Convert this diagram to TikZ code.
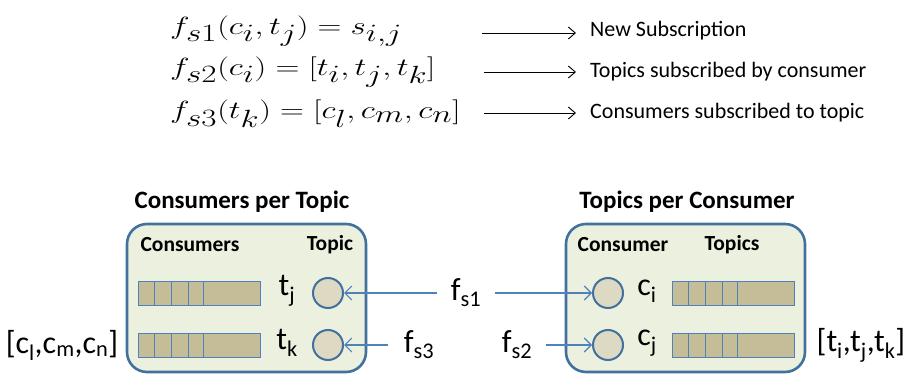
\documentclass[tikz,border=0pt]{standalone}
\usepackage{amsmath}
\usepackage{fontspec}
\setmainfont{Carlito}
\usepackage{tikz}
\usetikzlibrary{arrows.meta, positioning}
\definecolor{kaderblauw}{RGB}{65,113,156}
\definecolor{lijnblauw}{RGB}{79,129,189}
\definecolor{vakgroen}{RGB}{235,241,222}
\definecolor{balkbruin}{RGB}{196,189,151}
\definecolor{bolgrijs}{RGB}{221,217,195}

\tikzset{
  mapbox/.style={draw=kaderblauw, line width=2.6pt, fill=vakgroen, rounded corners=20pt},
  entry/.style={circle, draw=kaderblauw, line width=2pt, fill=bolgrijs, minimum size=30pt, inner sep=0pt},
  listbar/.style={draw=lijnblauw, line width=0.8pt, fill=balkbruin, minimum width=122pt, minimum height=24pt, inner sep=0pt},
  flow/.style={draw=lijnblauw, line width=1.2pt, -{Straight Barb[length=7pt, width=14pt, line width=1.2pt]}},
  meaning/.style={line width=0.9pt, -{Straight Barb[length=7pt, width=12pt, line width=0.9pt]}},
  title/.style={font=\fontsize{25}{30}\selectfont\bfseries},
  colhead/.style={font=\fontsize{21.5}{26}\selectfont\bfseries},
  sym/.style={font=\fontsize{32}{36}\selectfont, inner sep=2pt},
  fun/.style={font=\fontsize{32}{36}\selectfont, inner xsep=14pt, inner ysep=2pt},
  eq/.style={font=\fontsize{33}{38}\selectfont, anchor=west, inner sep=0pt},
  expl/.style={font=\fontsize{22}{26}\selectfont, anchor=west, inner sep=0pt}
}
\newcommand{\breed}[1]{\scalebox{1.33}[1]{#1}}

\begin{document}
\begin{tikzpicture}[x=1pt, y=-1pt]
  \useasboundingbox (0,0) rectangle (906,374);
  % definities
  \node[eq] (eq1) at (170,31) {\breed{$f_{s1}(c_i,t_j) = s_{i,j}$}};
  \node[eq] (eq2) at (170,72) {\breed{$f_{s2}(c_i) = [t_i,t_j,t_k]$}};
  \node[eq] (eq3) at (170,114) {\breed{$f_{s3}(t_k) = [c_l,c_m,c_n]$}};
  \node[expl] (new) at (590,31) {New Subscription};
  \node[expl] (tpc) at (590,72) {Topics subscribed by consumer};
  \node[expl] (cpt) at (590,113) {Consumers subscribed to topic};
  \coordinate (s1) at (482,33);
  \coordinate (s2) at (484,72);
  \coordinate (s3) at (484,113);
  \draw[meaning] (s1) -- ([xshift=-14pt]new.west |- s1);
  \draw[meaning] (s2) -- ([xshift=-14pt]tpc.west |- s2);
  \draw[meaning] (s3) -- ([xshift=-14pt]cpt.west |- s3);
  % Consumers per Topic
  \node[title] (lefttitle) at (242,202) {Consumers per Topic};
  \draw[mapbox] (127,224) rectangle (366,372);
  \node[colhead] (consh) at (190,245) {Consumers};
  \node[colhead] (topich) at (330,245) {Topic};
  \node[listbar] (barj) at (199,293) {};
  \node[listbar] (bark) at (199,345) {};
  \foreach \b in {barj, bark}
    \foreach \dx in {17,34,51,66}
      \draw[lijnblauw, line width=0.8pt] ([xshift=\dx pt]\b.north west) -- ([xshift=\dx pt]\b.south west);
  \node[sym] (tjl) at (287,291) {t\textsubscript{j}};
  \node[sym] (tkl) at (287,343) {t\textsubscript{k}};
  \node[entry] (tj) at (328,293) {};
  \node[entry] (tk) at (328,345) {};
  \node[sym] (cl) at (62,345) {[c\textsubscript{l},c\textsubscript{m},c\textsubscript{n}]};
  % Topics per Consumer
  \node[title] (righttitle) at (687,202) {Topics per Consumer};
  \draw[mapbox] (566,224) rectangle (805,372);
  \node[colhead] (consumh) at (623,245) {Consumer};
  \node[colhead] (topicsh) at (732,245) {Topics};
  \node[entry] (ci) at (608,293) {};
  \node[entry] (cj) at (608,345) {};
  \node[sym] (cil) at (647,291) {c\textsubscript{i}};
  \node[sym] (cjl) at (647,343) {c\textsubscript{j}};
  \node[listbar] (bari) at (733,293) {};
  \node[listbar] (barjj) at (733,345) {};
  \foreach \b in {bari, barjj}
    \foreach \dx in {17,34,51,66}
      \draw[lijnblauw, line width=0.8pt] ([xshift=\dx pt]\b.north west) -- ([xshift=\dx pt]\b.south west);
  \node[sym] (tl) at (861,345) {[t\textsubscript{i},t\textsubscript{j},t\textsubscript{k}]};
  % functies
  \node[fun] (fs1) at (466,293) {f\textsubscript{s1}};
  \node[fun, inner xsep=16pt] (fs3) at (419,345) {f\textsubscript{s3}};
  \node[fun] (fs2) at (517,345) {f\textsubscript{s2}};
  \draw[flow] (fs1) -- (tj);
  \draw[flow] (fs1) -- (ci);
  \draw[flow] (fs3) -- (tk);
  \draw[flow] (fs2) -- (cj);
\end{tikzpicture}
\end{document}
